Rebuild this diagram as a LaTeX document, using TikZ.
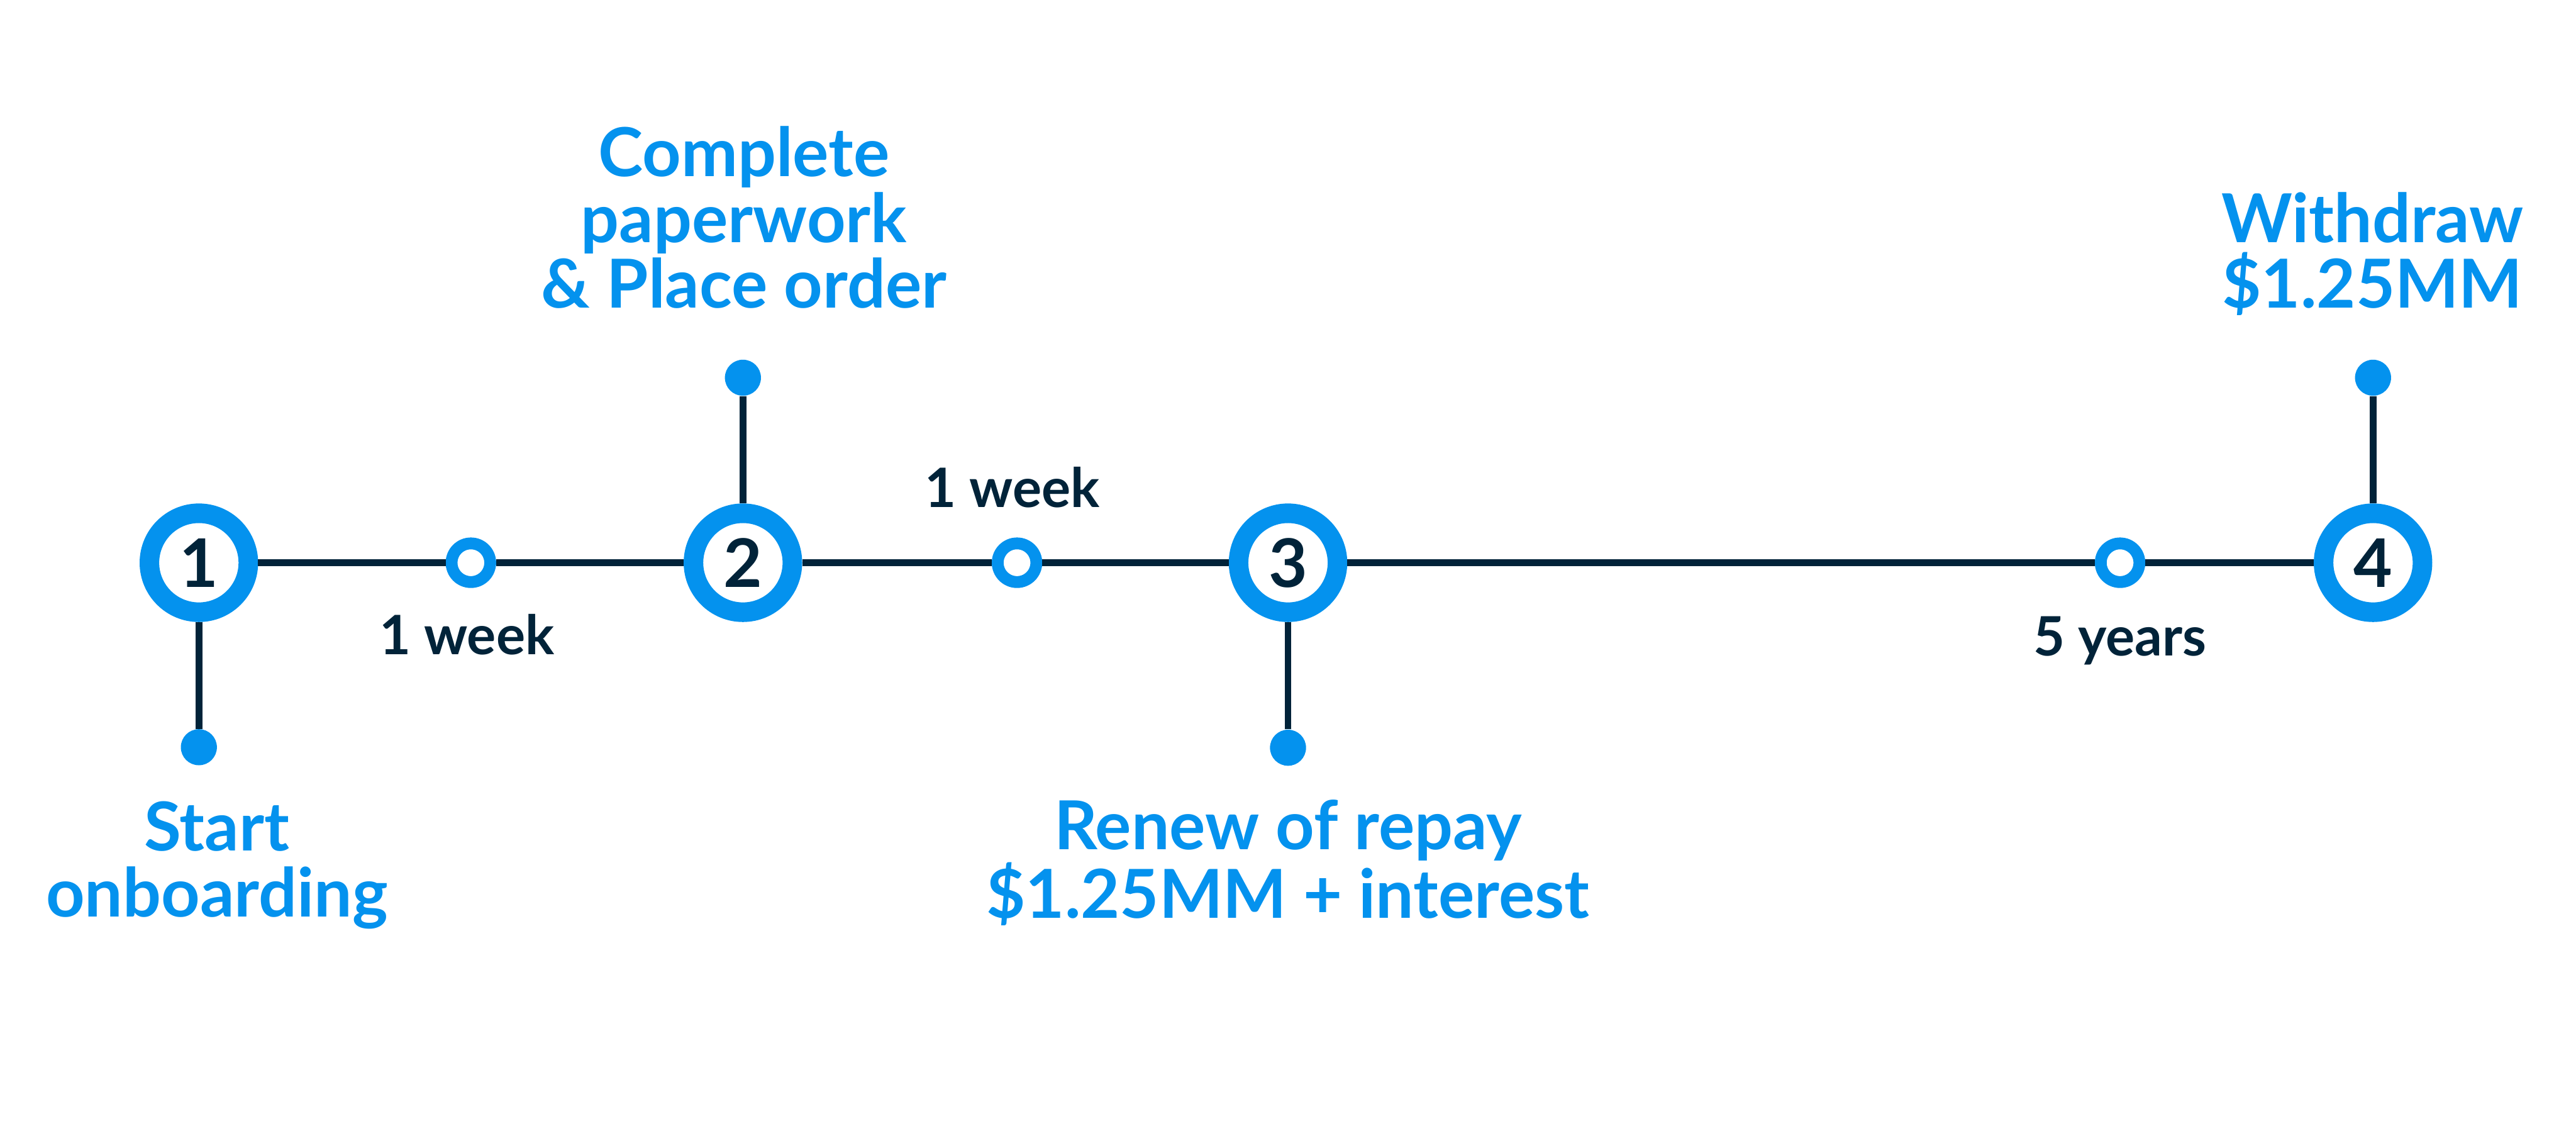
\documentclass[tikz,border=0pt]{standalone}
\usepackage{fontspec}
\setmainfont{Lato}
\usepackage{xcolor}
\definecolor{tlblue}{RGB}{4,146,238}
\definecolor{tlnavy}{RGB}{1,35,57}

\begin{document}
\begin{tikzpicture}[
  stepring/.style={circle, draw=tlblue, line width=0.38cm, fill=white, minimum size=1.92cm, inner sep=0pt,
    text=tlnavy, font=\fontsize{37}{44}\selectfont\bfseries},
  gapring/.style={circle, draw=tlblue, line width=0.23cm, fill=white, minimum size=0.75cm, inner sep=0pt},
  pin/.style={circle, fill=tlblue, minimum size=0.7cm, inner sep=0pt},
  event/.style={text=tlblue, align=center, anchor=base, font=\fontsize{37.3}{36.4}\selectfont\bfseries},
  span/.style={text=tlnavy, anchor=base, font=\fontsize{30}{35}\selectfont\bfseries},
  link/.style={draw=tlnavy, line width=0.13cm}]
\useasboundingbox (0,0) rectangle (50,-22.18);
% milestones on the time line
\node[stepring] (c1) at (3.86,-10.92) {1};
\node[stepring] (c2) at (14.42,-10.92) {2};
\node[stepring] (c3) at (25.00,-10.92) {3};
\node[stepring] (c4) at (46.06,-10.92) {4};
% intervals between them
\node[gapring] (m1) at (9.14,-10.92) {};
\node[gapring] (m2) at (19.74,-10.92) {};
\node[gapring] (m3) at (41.15,-10.92) {};
\node[span] (w1) at (9.06,-12.70) {1 week};
\node[span] (w2) at (19.65,-9.84) {1 week};
\node[span] (y5) at (41.15,-12.72) {5 years};
% pins with their events (base = last line)
\node[pin] (d1) at (3.86,-14.50) {};
\node[pin] (d2) at (14.42,-7.33) {};
\node[pin] (d3) at (25.00,-14.51) {};
\node[pin] (d4) at (46.06,-7.33) {};
\node[event] (e1) at (4.21,-17.79) {Start\\onboarding};
\node[event] (e2) at (14.44,-5.98) {Complete\\paperwork\\\& Place order};
\node[event] (e3) at (25.00,-17.82) {Renew of repay\\\$1.25MM + interest};
\node[event] (e4) at (46.05,-5.98) {Withdraw\\\$1.25MM};
\draw[link] (c1) -- (m1) -- (c2) -- (m2) -- (c3) -- (m3) -- (c4);
\draw[link] (c1) -- (d1);
\draw[link] (c2) -- (d2);
\draw[link] (c3) -- (d3);
\draw[link] (c4) -- (d4);
\end{tikzpicture}
\end{document}
